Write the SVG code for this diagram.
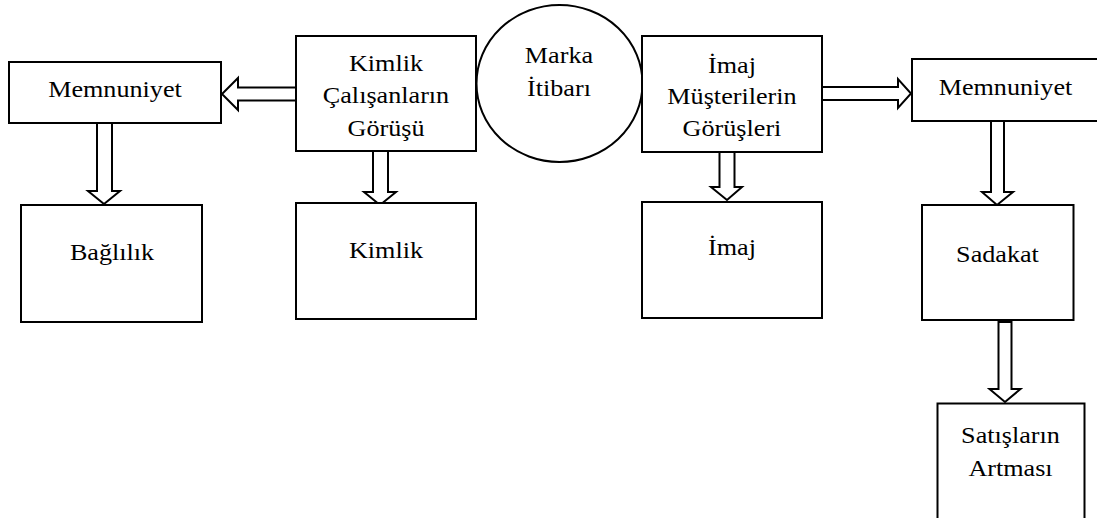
<svg xmlns="http://www.w3.org/2000/svg" width="1097" height="518" viewBox="0 0 1097 518">
<style>
.box{fill:#fff;stroke:#000;stroke-width:2}
.arr{fill:#fff;stroke:#000;stroke-width:2;stroke-linejoin:miter}
.t{font-family:"Liberation Serif","Times New Roman",serif;font-size:24px;fill:#000;text-anchor:middle}
</style>
<rect width="1097" height="518" fill="#fff"/>
<g id="connectors">
<polygon class="arr" points="296,87.5 238,87.5 238,78 222,94 238,110 238,100.5 296,100.5"/>
<polygon class="arr" points="822,87 898,87 898,79 911,93.5 898,108 898,100 822,100"/>
<polygon class="arr" points="97,123 112,123 112,191 120,191 104,204 88,191 97,191"/>
<polygon class="arr" points="373,151 388,151 388,192 396,192 380,205 364,192 373,192"/>
<polygon class="arr" points="719.5,152 734.5,152 734.5,187 742,187 727,200 711,187 719.5,187"/>
<polygon class="arr" points="991,121 1004,121 1004,192 1013,192 997,205 982,192 991,192"/>
<polygon class="arr" points="998.5,322 1011.5,322 1011.5,389 1020.5,389 1005,402 989.5,389 998.5,389"/>
</g>
<g id="memnuniyet-left">
<rect class="box" x="9" y="62" width="212" height="61"/>
<text class="t" transform="translate(115,96.5) scale(1.09,1)">Memnuniyet</text>
</g>
<g id="baglilik">
<rect class="box" x="21" y="205" width="181" height="117"/>
<text class="t" transform="translate(112,260) scale(1.09,1)">Bağlılık</text>
</g>
<g id="kimlik-gorus">
<rect class="box" x="296" y="36" width="180" height="115"/>
<text class="t" transform="translate(386,71) scale(1.09,1)"><tspan x="0" y="0">Kimlik</tspan><tspan x="0" y="32.5">Çalışanların</tspan><tspan x="0" y="65">Görüşü</tspan></text>
</g>
<g id="kimlik">
<rect class="box" x="296" y="203" width="180" height="116"/>
<text class="t" transform="translate(386,258) scale(1.09,1)">Kimlik</text>
</g>
<g id="marka-itibari">
<ellipse class="box" cx="559.5" cy="83.5" rx="83" ry="78.5"/>
<text class="t" transform="translate(559,63.3) scale(1.09,1)"><tspan x="0" y="0">Marka</tspan><tspan x="0" y="32.7">İtibarı</tspan></text>
</g>
<g id="imaj-gorus">
<rect class="box" x="642" y="36" width="180" height="116"/>
<text class="t" transform="translate(732,73) scale(1.09,1)"><tspan x="0" y="0">İmaj</tspan><tspan x="0" y="31.5">Müşterilerin</tspan><tspan x="0" y="63">Görüşleri</tspan></text>
</g>
<g id="imaj">
<rect class="box" x="642" y="202" width="180" height="116"/>
<text class="t" transform="translate(732,255) scale(1.09,1)">İmaj</text>
</g>
<g id="memnuniyet-right">
<rect class="box" x="912" y="59" width="212" height="62"/>
<text class="t" transform="translate(1005.5,95) scale(1.09,1)">Memnuniyet</text>
</g>
<g id="sadakat">
<rect class="box" x="922" y="205" width="151.5" height="115"/>
<text class="t" transform="translate(997.5,261.5) scale(1.09,1)">Sadakat</text>
</g>
<g id="satislarin-artmasi">
<rect class="box" x="937.5" y="403.5" width="147" height="130"/>
<text class="t" transform="translate(1010.5,443.3) scale(1.09,1)"><tspan x="0" y="0">Satışların</tspan><tspan x="0" y="32.4">Artması</tspan></text>
</g>
</svg>
